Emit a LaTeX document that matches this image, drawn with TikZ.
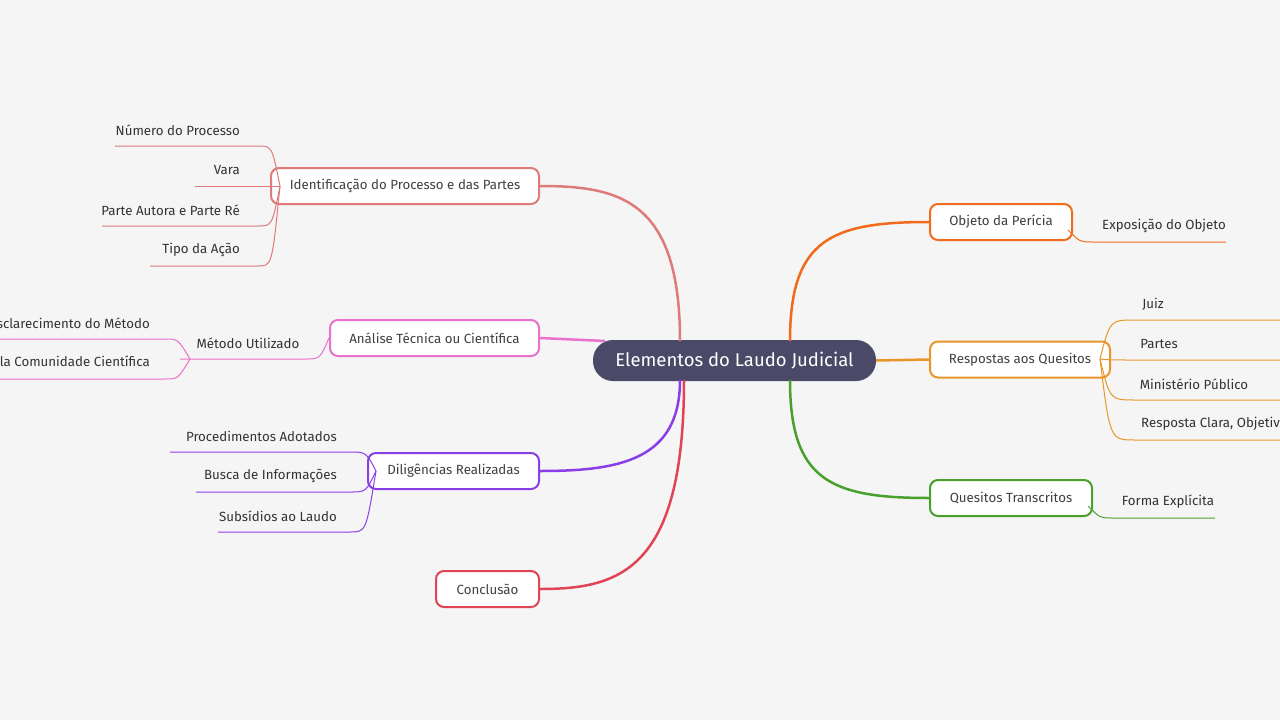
\documentclass[tikz,border=0pt]{standalone}
\usepackage{fontspec}
\setmainfont{Fira Sans}
\definecolor{bg}{HTML}{F5F5F5}
\definecolor{hub}{HTML}{4A4A68}
\definecolor{cIdent}{HTML}{DE7A7A}
\definecolor{cAnal}{HTML}{E872CC}
\definecolor{cDilig}{HTML}{8A3EE8}
\definecolor{cConc}{HTML}{E04455}
\definecolor{cObj}{HTML}{F26B1D}
\definecolor{cResp}{HTML}{E8962A}
\definecolor{cQues}{HTML}{4AA02C}
\tikzset{
  topic/.style={draw=#1, line width=2pt, fill=white, rounded corners=8pt, minimum height=36pt, inner xsep=16pt, font=\fontsize{13.3}{16}\selectfont, text=black!75},
  leaf/.style={font=\fontsize{13.3}{16}\selectfont, text=black!80, inner sep=0pt},
  link/.style={draw=#1, line width=2.5pt},
  twig/.style={draw=#1, line width=1pt}
}
\begin{document}
\begin{tikzpicture}[x=1pt,y=-1pt]
\useasboundingbox (0,0) rectangle (1280,720);
\fill[bg] (0,0) rectangle (1280,720);
\clip (0,0) rectangle (1280,720);

% hub
\node[fill=hub, text=white, rounded corners=20pt, minimum width=283pt, minimum height=41pt, font=\fontsize{18.5}{22}\selectfont] (hub) at (734.5,360.5) {Elementos do Laudo Judicial};

% right side
\node[topic=cObj, minimum width=142pt] (obj) at (1001,222) {Objeto da Perícia};
\node[topic=cResp, minimum width=180pt] (resp) at (1020,359.5) {Respostas aos Quesitos};
\node[topic=cQues, minimum width=162pt] (ques) at (1011,498) {Quesitos Transcritos};
\draw[link=cObj] (790,341) .. controls (790,240) and (830,222) .. (obj.west);
\draw[link=cResp] (hub.east) -- (resp.west);
\draw[link=cQues] (790,380) .. controls (790,480) and (830,498) .. (ques.west);

\node[leaf] (expo) at (1164,226) {Exposição do Objeto};
\draw[twig=cObj] (1068,230) .. controls (1080,242) .. (1092,242) -- (1226,242);

\node[leaf] (juiz) at (1153,304) {Juiz};
\node[leaf] (part) at (1159,344) {Partes};
\node[leaf] (mini) at (1194,384) {Ministério Público};
\node[leaf, anchor=west] (clara) at (1141,424) {Resposta Clara, Objetiva e Fundamentada};
\foreach \y in {320,360,400,440}
  \draw[twig=cResp] (1100,359) .. controls (1110,\y) .. (1135,\y) -- (1280,\y);

\node[leaf] (forma) at (1168,502) {Forma Explícita};
\draw[twig=cQues] (1088,506) .. controls (1100,518) .. (1112,518) -- (1215,518);

% left side
\node[topic=cIdent, minimum width=268pt] (ident) at (405,186) {Identificação do Processo e das Partes};
\node[topic=cAnal, minimum width=209pt] (anal) at (434.5,338) {Análise Técnica ou Científica};
\node[topic=cDilig, minimum width=171pt] (dilig) at (453.5,471) {Diligências Realizadas};
\node[topic=cConc, minimum width=103pt] (conc) at (487.5,589) {Conclusão};
\draw[link=cIdent] (680,341) .. controls (680,200) and (620,186) .. (ident.east);
\draw[link=cAnal] (605,341) -- (anal.east);
\draw[link=cDilig] (680,380) .. controls (680,460) and (620,471) .. (dilig.east);
\draw[link=cConc] (684,380) .. controls (684,570) and (620,589) .. (conc.east);

\node[leaf, anchor=east] (num) at (240,130) {Número do Processo};
\node[leaf, anchor=east] (vara) at (240,170) {Vara};
\node[leaf, anchor=east] (autor) at (240,210) {Parte Autora e Parte Ré};
\node[leaf, anchor=east] (tipo) at (240,250) {Tipo da Ação};
\draw[twig=cIdent] (280,186) .. controls (272,146) .. (258,146) -- (115,146);
\draw[twig=cIdent] (280,186) -- (195,186);
\draw[twig=cIdent] (280,186) .. controls (272,226) .. (258,226) -- (102,226);
\draw[twig=cIdent] (280,186) .. controls (272,266) .. (258,266) -- (150,266);

\node[leaf] (metodo) at (248,343) {Método Utilizado};
\draw[twig=cAnal] (anal.west) .. controls (320,359) .. (305,359) -- (180,359);
\node[leaf, anchor=east] (escl) at (150,323) {Esclarecimento do Método};
\node[leaf, anchor=east] (acei) at (150,363) {Aceitação pela Comunidade Científica};
\draw[twig=cAnal] (190,359) .. controls (178,339) .. (165,339) -- (0,339);
\draw[twig=cAnal] (190,359) .. controls (178,379) .. (165,379) -- (0,379);

\node[leaf, anchor=east] (proc) at (337,436) {Procedimentos Adotados};
\node[leaf, anchor=east] (busca) at (337,476) {Busca de Informações};
\node[leaf, anchor=east] (subs) at (337,516) {Subsídios ao Laudo};
\draw[twig=cDilig] (376,471) .. controls (366,452) .. (350,452) -- (170,452);
\draw[twig=cDilig] (376,471) .. controls (366,492) .. (350,492) -- (196,492);
\draw[twig=cDilig] (376,471) .. controls (366,532) .. (350,532) -- (218,532);
\end{tikzpicture}
\end{document}
